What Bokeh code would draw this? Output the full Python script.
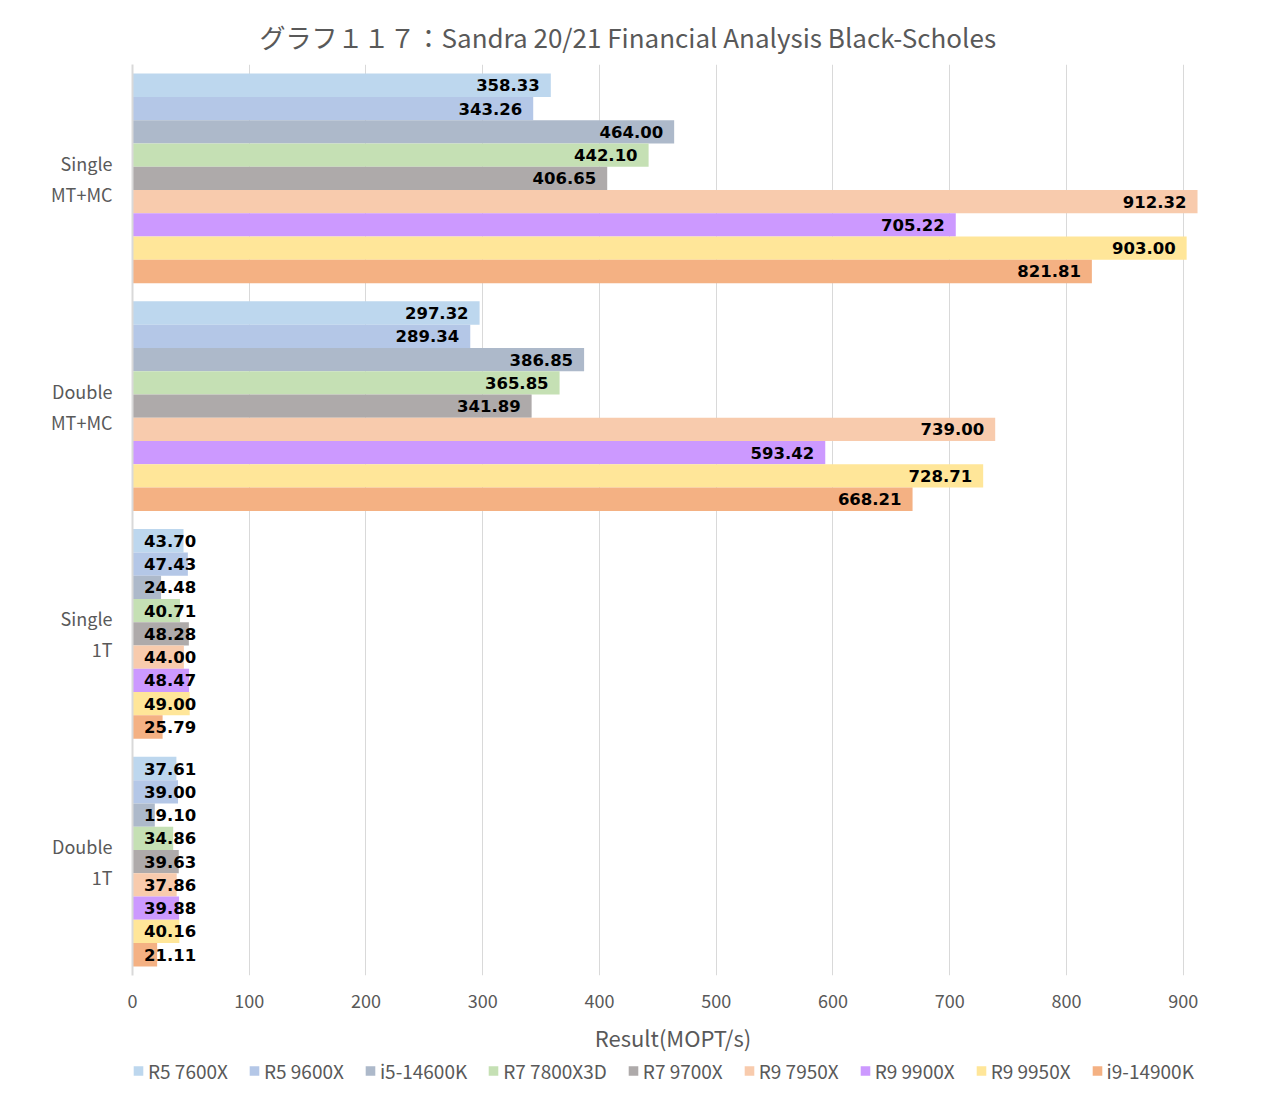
import numpy as np
from bokeh.plotting import figure
from bokeh.layouts import column
from bokeh.models import FactorRange, Range1d, ColumnDataSource, FixedTicker, Legend, LegendItem
from bokeh.transform import dodge
from bokeh.core.properties import value
from bokeh.embed import file_html
from bokeh.resources import INLINE

title = "グラフ１１７：Sandra 20/21 Financial Analysis Black-Scholes"
categories = ["Single\nMT+MC", "Double\nMT+MC", "Single\n1T", "Double\n1T"]
cpus = ["R5 7600X", "R5 9600X", "i5-14600K", "R7 7800X3D", "R7 9700X",
        "R9 7950X", "R9 9900X", "R9 9950X", "i9-14900K"]
colors = ["#BDD7EE", "#B4C7E7", "#ADB9CA", "#C5E0B4", "#AEAAAA",
          "#F8CBAD", "#CC99FF", "#FFE699", "#F4B183"]

r5_7600x = [358.33, 297.32, 43.70, 37.61]
r5_9600x = [343.26, 289.34, 47.43, 39.00]
i5_14600k = [464.00, 386.85, 24.48, 19.10]
r7_7800x3d = [442.10, 365.85, 40.71, 34.86]
r7_9700x = [406.65, 341.89, 48.28, 39.63]
r9_7950x = [912.32, 739.00, 44.00, 37.86]
r9_9900x = [705.22, 593.42, 48.47, 39.88]
r9_9950x = [903.00, 728.71, 49.00, 40.16]
i9_14900k = [821.81, 668.21, 25.79, 21.11]
series = [r5_7600x, r5_9600x, i5_14600k, r7_7800x3d, r7_9700x,
          r9_7950x, r9_9900x, r9_9950x, i9_14900k]

x_ticks = [0, 100, 200, 300, 400, 500, 600, 700, 800, 900]

FONT = "Noto Sans CJK JP"
GREY = "#595959"

p = figure(width=1260, height=1055, output_backend="svg", toolbar_location=None,
           y_range=FactorRange(factors=categories[::-1], range_padding=0),
           x_range=Range1d(0, 926),
           min_border_left=132, min_border_right=47, min_border_top=64,
           min_border_bottom=71)

p.title.text = title
p.title.align = "left"
p.title.offset = 127
p.title.text_font = FONT
p.title.text_font_size = "26px"
p.title.text_font_style = "normal"
p.title.text_color = GREY
p.title.standoff = 19

n = len(cpus)
bh = 0.92 / n
for i, (cpu, col, vals) in enumerate(zip(cpus, colors, series)):
    off = ((n - 1) / 2 - i) * bh
    v = np.array(vals)
    src = ColumnDataSource(dict(cat=categories, v=v,
                                lx=np.maximum(v, 64.0),
                                txt=[f"{x:.2f}" for x in v]))
    p.hbar(y=dodge("cat", off, range=p.y_range), right="v", left=0, height=bh,
           source=src, fill_color=col, line_color=None)
    p.text(x="lx", y=dodge("cat", off, range=p.y_range), text="txt", source=src,
           x_offset=-11, text_align="right", text_baseline="middle",
           text_font=value("DejaVu Sans"), text_font_size="16.5px",
           text_font_style="bold", text_color="black")

p.xaxis.ticker = FixedTicker(ticks=x_ticks)
p.xaxis.axis_label = "Result(MOPT/s)"
p.xaxis.axis_label_text_font = FONT
p.xaxis.axis_label_text_font_size = "22px"
p.xaxis.axis_label_text_font_style = "normal"
p.xaxis.axis_label_text_color = GREY
p.xaxis.axis_label_standoff = 10
p.xaxis.major_label_text_font = FONT
p.xaxis.major_label_text_font_size = "18px"
p.xaxis.major_label_text_color = GREY
p.xaxis.major_label_standoff = 12
p.xaxis.axis_line_color = None
p.xaxis.major_tick_line_color = None
p.xaxis.minor_tick_line_color = None

p.yaxis.major_label_text_font = FONT
p.yaxis.major_label_text_font_size = "18px"
p.yaxis.major_label_text_color = GREY
p.yaxis.major_label_text_line_height = 1.2
p.yaxis.major_label_standoff = 14
p.yaxis.axis_line_color = "#D9D9D9"
p.yaxis.axis_line_width = 2
p.yaxis.major_tick_line_color = None
p.yaxis.minor_tick_line_color = None

p.xgrid.grid_line_color = "#D9D9D9"
p.xgrid.grid_line_width = 1
p.ygrid.grid_line_color = None
p.outline_line_color = None

# legend strip below the chart
pl = figure(width=1260, height=30, output_backend="svg", toolbar_location=None,
            x_range=Range1d(0, 1), y_range=Range1d(0, 1),
            min_border_left=0, min_border_right=0, min_border_top=0, min_border_bottom=0)
pl.axis.visible = False
pl.grid.grid_line_color = None
pl.outline_line_color = None
items = []
for cpu, col in zip(cpus, colors):
    r = pl.hbar(y=[-10], right=[-9], left=[-10], height=0.5, fill_color=col,
                line_color=None)
    items.append(LegendItem(label=cpu, renderers=[r]))
lg = Legend(items=items, orientation="horizontal", location="center_left")
lg.glyph_width = 12
lg.glyph_height = 12
lg.label_standoff = 4
lg.spacing = 20
lg.padding = 0
lg.margin = 0
lg.border_line_color = None
lg.background_fill_alpha = 0
lg.label_text_font = FONT
lg.label_text_font_size = "19px"
lg.label_text_color = GREY
pl.add_layout(lg, "center")

open("out.html", "w").write(file_html(column(p, pl), INLINE))
